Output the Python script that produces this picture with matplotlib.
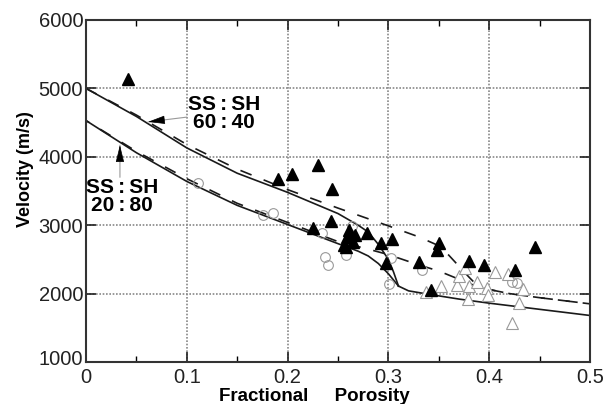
import matplotlib
matplotlib.use("Agg")
import matplotlib.pyplot as plt
import matplotlib.transforms as mtransforms
import numpy as np

plt.rcParams['font.family'] = ['Liberation Sans', 'DejaVu Sans']

# model curves, SS:SH 60:40 (upper) and 20:80 (lower), solid
upper_x = [0, 0.05, 0.1, 0.15, 0.2, 0.25, 0.27, 0.28, 0.29, 0.30, 0.305, 0.31]
upper_v = [5000, 4590, 4130, 3760, 3480, 3170, 3000, 2900, 2720, 2500, 2320, 2110]
lower_x = [0, 0.05, 0.1, 0.15, 0.2, 0.25, 0.27, 0.28, 0.29, 0.30, 0.305, 0.31]
lower_v = [4530, 4060, 3640, 3290, 3010, 2730, 2620, 2550, 2440, 2290, 2200, 2110]
tail_x = [0.31, 0.32, 0.34, 0.37, 0.4, 0.45, 0.5]
tail_v = [2110, 2040, 1990, 1920, 1860, 1770, 1680]

# dashed curves
dash_up_x = [0, 0.05, 0.1, 0.15, 0.2, 0.25, 0.3, 0.33, 0.35, 0.36, 0.37, 0.38, 0.39]
dash_up_v = [5000, 4610, 4180, 3820, 3520, 3250, 2990, 2830, 2700, 2560, 2400, 2240, 2090]
dash_lo_x = [0, 0.05, 0.1, 0.15, 0.2, 0.25, 0.28, 0.3, 0.33, 0.35, 0.37, 0.39]
dash_lo_v = [4530, 4080, 3680, 3320, 3040, 2760, 2650, 2570, 2420, 2330, 2210, 2090]
dash_tail_x = [0.39, 0.42, 0.45, 0.5]
dash_tail_v = [2090, 2000, 1940, 1850]

# measured data
filled_tri_x = [0.042, 0.19, 0.204, 0.23, 0.244, 0.243, 0.225, 0.261, 0.259, 0.267, 0.265,
                0.256, 0.258, 0.279, 0.293, 0.304, 0.298, 0.35, 0.348, 0.33, 0.38, 0.395,
                0.426, 0.445, 0.342]
filled_tri_v = [5140, 3675, 3750, 3880, 3530, 3060, 2960, 2930, 2830, 2860, 2750,
                2710, 2680, 2890, 2740, 2800, 2450, 2740, 2640, 2460, 2480, 2420,
                2345, 2680, 2050]
circle_x = [0.111, 0.176, 0.186, 0.234, 0.237, 0.24, 0.258, 0.264, 0.303, 0.301, 0.333,
            0.423, 0.428]
circle_v = [3610, 3150, 3180, 2880, 2535, 2420, 2560, 2990, 2520, 2140, 2345,
            2170, 2150]
open_tri_x = [0.337, 0.352, 0.368, 0.37, 0.376, 0.38, 0.388, 0.379, 0.398, 0.399, 0.406,
              0.419, 0.434, 0.43, 0.423]
open_tri_v = [2020, 2110, 2130, 2260, 2370, 2110, 2170, 1920, 2080, 1980, 2320,
              2290, 2070, 1860, 1570]

fig = plt.figure(figsize=(6.08, 4.04), dpi=100)
ax = fig.add_axes([0.1414, 0.104, 0.829, 0.8465])

dash = (0, (7.2, 7.8))
ax.plot(upper_x, upper_v, color='#1a1a1a', lw=1.2)
ax.plot(lower_x, lower_v, color='#1a1a1a', lw=1.2)
ax.plot(tail_x, tail_v, color='#1a1a1a', lw=1.2)
ax.plot(dash_up_x + dash_tail_x[1:], dash_up_v + dash_tail_v[1:], color='#1a1a1a',
        lw=1.2, linestyle=dash)
ax.plot(dash_lo_x + dash_tail_x[1:], dash_lo_v + dash_tail_v[1:], color='#1a1a1a',
        lw=1.2, linestyle=(5, (7.2, 7.8)))

ax.plot(circle_x, circle_v, 'o', ms=7, mfc='none', mec='#999999', mew=0.8)
ax.plot(open_tri_x, open_tri_v, '^', ms=8, mfc='white', mec='#999999', mew=0.8)
ax.plot(filled_tri_x, filled_tri_v, '^', ms=8, color='black')

# annotation arrows: gray shaft, black head
head = dict(arrowstyle='-|>,head_length=0.9,head_width=0.22', color='black', lw=0.5,
            mutation_scale=12, shrinkA=0, shrinkB=0)
shaft = dict(arrowstyle='-', color='#999999', lw=0.8, shrinkA=0, shrinkB=0)
ax.annotate('', xy=(0.0615, 4510), xytext=(0.1, 4580), arrowprops=shaft)
ax.annotate('', xy=(0.0615, 4510), xytext=(0.075, 4535), arrowprops=head)
ax.annotate('', xy=(0.0337, 4170), xytext=(0.0337, 3700), arrowprops=shaft)
ax.annotate('', xy=(0.0337, 4170), xytext=(0.0337, 3990), arrowprops=head)

ts = '\u2009'
lab_a = 'SS' + ts + ':' + ts + 'SH'
ax.text(0.137, 4765, lab_a, fontsize=15, fontweight='bold', ha='center', va='center')
ax.text(0.137, 4500, '60' + ts + ':' + ts + '40', fontsize=15, fontweight='bold',
        ha='center', va='center')
ax.text(0.0357, 3550, lab_a, fontsize=15, fontweight='bold', ha='center', va='center')
ax.text(0.0357, 3290, '20' + ts + ':' + ts + '80', fontsize=15, fontweight='bold',
        ha='center', va='center')

ax.set_xlim(0, 0.5)
ax.set_ylim(1000, 6000)
ax.set_xticks([0, 0.1, 0.2, 0.3, 0.4, 0.5])
ax.set_xticklabels(['0', '0.1', '0.2', '0.3', '0.4', '0.5'])
ax.set_xticks(np.arange(0.05, 0.5, 0.1), minor=True)
ax.set_yticks([1000, 2000, 3000, 4000, 5000, 6000])
ax.grid(True, which='major', color='#888888', linestyle=(0, (1, 1)), lw=1.2)
ax.tick_params(which='major', direction='in', length=7, width=1.2, top=True, right=True,
               labelsize=14.5, colors='#222222')
ax.tick_params(axis='x', which='major', pad=4)
ax.tick_params(axis='y', which='major', pad=2)
ax.tick_params(which='minor', direction='in', length=4, width=1.0, top=True)
for s in ax.spines.values():
    s.set_linewidth(1.5)
    s.set_color('#333333')

# lift the bottom y label a little so it clears the x "0"
fig.canvas.draw()
ylab0 = ax.get_yticklabels()[0]
ylab0.set_transform(ylab0.get_transform() +
                    mtransforms.ScaledTranslation(0, 4 / 100, fig.dpi_scale_trans))

ax.set_xlabel('Fractional     Porosity', fontsize=13.5, fontweight='bold')
ax.xaxis.set_label_coords(0.454, -0.075)
ax.set_ylabel('Velocity (m/s)', fontsize=13, fontweight='bold')
ax.yaxis.set_label_coords(-0.103, 0.565)

fig.savefig('out.png', dpi=100)
